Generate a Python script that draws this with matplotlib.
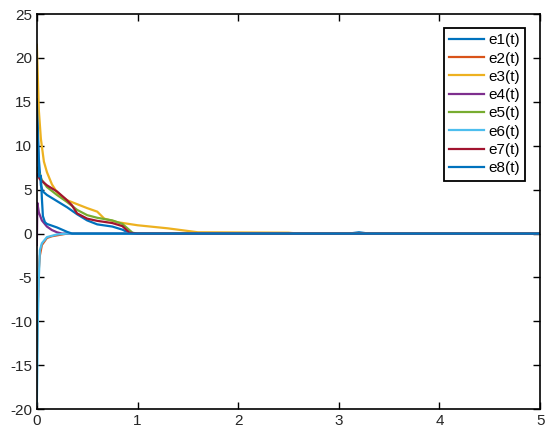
import matplotlib
matplotlib.use("Agg")
from matplotlib import pyplot as plt

plt.rcParams['font.family'] = ['Liberation Sans', 'DejaVu Sans']
plt.rcParams['axes.unicode_minus'] = False

labels = ['e1(t)', 'e2(t)', 'e3(t)', 'e4(t)', 'e5(t)', 'e6(t)', 'e7(t)', 'e8(t)']
colors = ['#0072BD', '#D95319', '#EDB120', '#7E2F8E',
          '#77AC30', '#4DBEEE', '#A2142F', '#0072BD']

# (t, e)
t1 = [0, 0.02, 0.04, 0.06, 0.1, 0.2, 0.3, 0.4, 0.5, 0.6, 0.75, 0.85, 0.92, 1.0, 3.1, 3.2, 3.3, 5]
e1 = [15.3, 8.5, 5.5, 4.8, 4.4, 3.7, 3.0, 2.2, 1.5, 1.05, 0.8, 0.45, 0.05, 0, 0, 0.15, 0, 0]
t2 = [0, 0.01, 0.02, 0.03, 0.05, 0.1, 0.15, 0.3, 5]
e2 = [-14, -8, -4, -2.5, -1.3, -0.5, -0.3, 0, 0]
t3 = [0, 0.02, 0.04, 0.07, 0.1, 0.15, 0.2, 0.3, 0.5, 0.6, 0.67, 0.8, 1.0, 1.3, 1.5, 1.6, 2.5, 2.6, 5]
e3 = [21.5, 14.0, 10.8, 8.2, 7.0, 5.6, 4.7, 3.8, 2.9, 2.5, 1.7, 1.3, 0.95, 0.6, 0.3, 0.15, 0.1, 0, 0]
t4 = [0, 0.005, 0.02, 0.05, 0.1, 0.15, 0.2, 0.25, 5]
e4 = [-1.3, 3.5, 2.4, 1.5, 0.8, 0.4, 0.15, 0, 0]
t5 = [0, 0.05, 0.1, 0.2, 0.3, 0.4, 0.5, 0.6, 0.75, 0.85, 0.95, 1.0, 5]
e5 = [7.5, 6.1, 5.3, 4.4, 3.6, 2.7, 2.1, 1.8, 1.5, 1.1, 0.1, 0, 0]
t6 = [0, 0.005, 0.01, 0.02, 0.03, 0.05, 0.1, 0.2, 0.3, 5]
e6 = [-19.5, -15, -9.8, -5, -1.9, -1.1, -0.4, -0.1, 0, 0]
t7 = [0, 0.03, 0.1, 0.2, 0.3, 0.35, 0.4, 0.5, 0.6, 0.75, 0.85, 0.92, 1.0, 5]
e7 = [6.8, 6.2, 5.5, 4.8, 3.8, 3.2, 2.3, 1.7, 1.45, 1.2, 0.85, 0.1, 0, 0]
t8 = [0, 0.02, 0.04, 0.05, 0.06, 0.08, 0.1, 0.2, 0.3, 0.35, 5]
e8 = [15.0, 6.5, 6.6, 4.0, 2.0, 1.3, 1.1, 0.7, 0.2, 0, 0]

ts = [t1, t2, t3, t4, t5, t6, t7, t8]
es = [e1, e2, e3, e4, e5, e6, e7, e8]

fig = plt.figure(figsize=(5.5, 4.4), dpi=100)
ax = fig.add_axes([0.067, 0.07, 0.915, 0.898])
for t, e, c, lab in zip(ts, es, colors, labels):
    ax.plot(t, e, color=c, lw=1.6, label=lab)

ax.set_xlim(0, 5)
ax.set_ylim(-20, 25)
ax.set_xticks(range(0, 6))
ax.set_yticks(range(-20, 26, 5))
ax.tick_params(direction='in', top=True, right=True, labelsize=11,
               width=1, length=5, labelcolor='#262626')
for s in ax.spines.values():
    s.set_linewidth(1.2)

leg = ax.legend(loc='upper right', bbox_to_anchor=(0.97, 0.965), fontsize=11,
                fancybox=False, framealpha=1, edgecolor='black',
                handlelength=2.3, labelspacing=0.28, borderpad=0.35,
                handletextpad=0.25, borderaxespad=0.0)
leg.get_frame().set_linewidth(1.3)

fig.savefig('out.png', dpi=100)
